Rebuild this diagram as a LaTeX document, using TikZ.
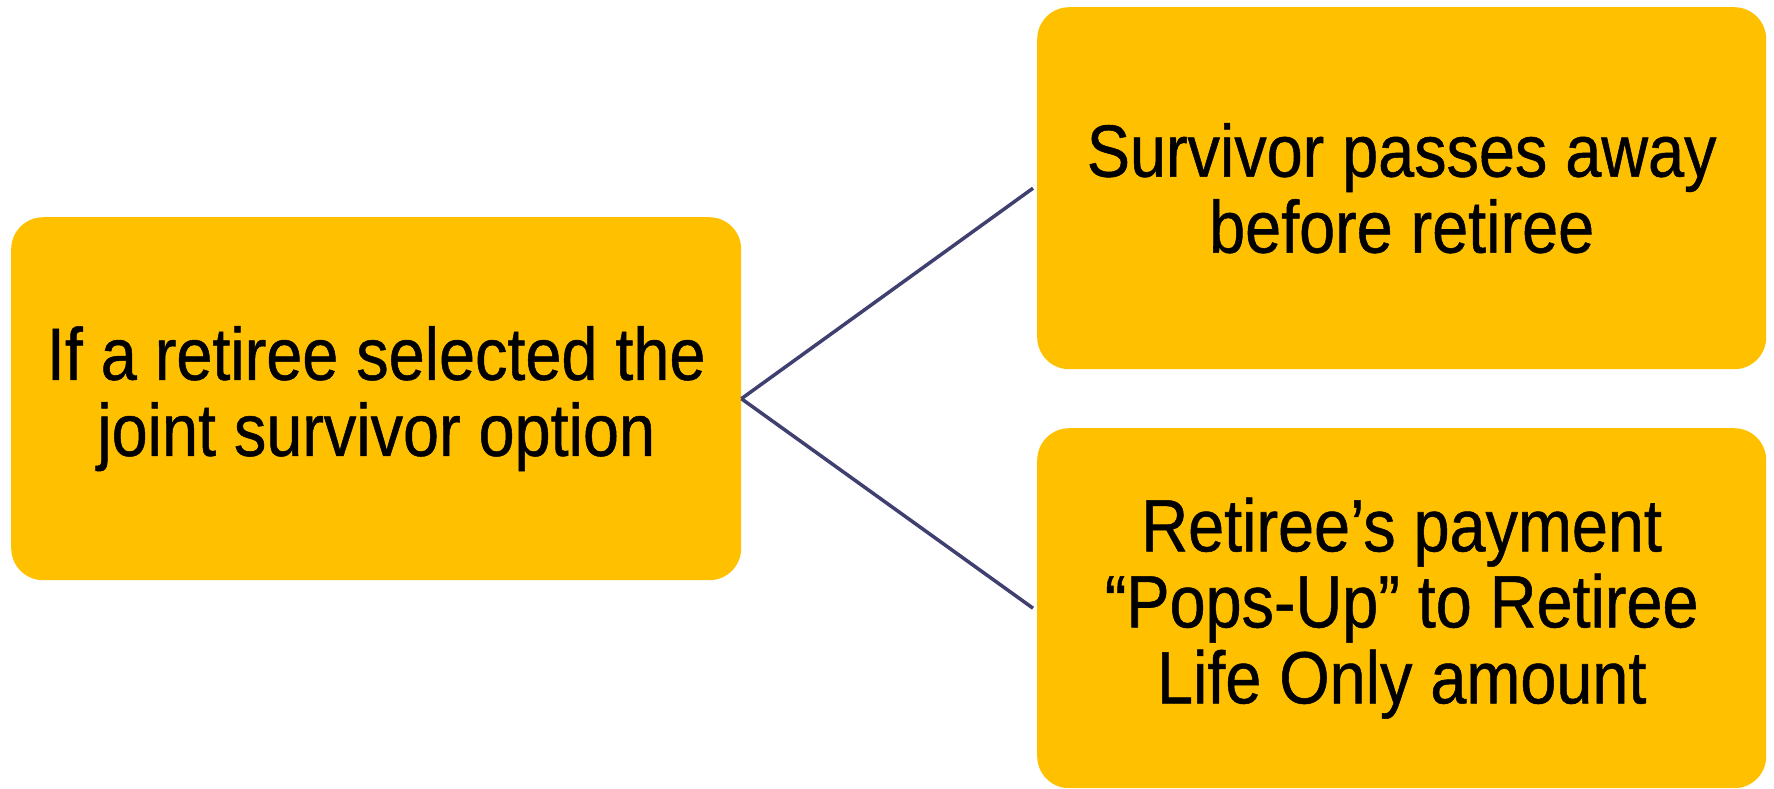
\documentclass[tikz,border=0pt]{standalone}
\usepackage{fontspec}
\setmainfont{Liberation Sans}[FakeStretch=0.875,FakeBold=0.7]
\definecolor{boxfill}{HTML}{FFC000}
\definecolor{linkcol}{HTML}{404070}
\begin{document}
\begin{tikzpicture}[x=1pt,y=-1pt,
  card/.style={fill=boxfill, rounded corners=32pt, inner sep=0pt, align=center,
    font=\fontsize{74}{76}\selectfont, text=black, anchor=north west},
  link/.style={draw=linkcol, line width=3.5pt}]
\useasboundingbox (0,0) rectangle (1774,788);
\node[card, minimum width=730pt, minimum height=363pt] (src) at (11,217)
  {If a retiree selected the\\joint survivor option};
\node[card, minimum width=729pt, minimum height=362pt] (top) at (1037,7)
  {Survivor passes away\\before retiree};
\node[card, minimum width=729pt, minimum height=360pt] (bot) at (1037,428)
  {Retiree’s payment\\“Pops-Up” to Retiree\\Life Only amount};
\draw[link] (src.east) -- ([xshift=-4pt]top.west);
\draw[link] (src.east) -- ([xshift=-4pt]bot.west);
\end{tikzpicture}
\end{document}
